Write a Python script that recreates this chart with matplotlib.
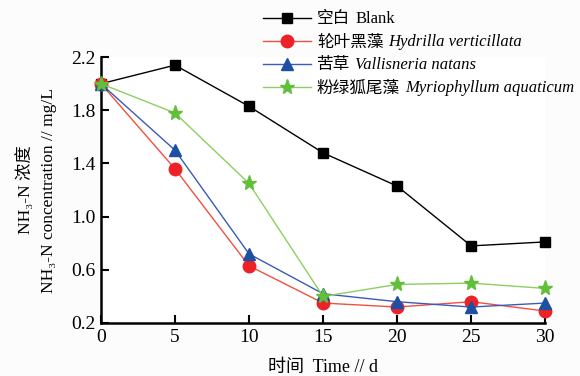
import matplotlib
matplotlib.use('Agg')
import matplotlib.pyplot as plt

# NH3-N concentration over time for blank and three submerged plants
days = [0, 5, 10, 15, 20, 25, 30]
blank = [2.00, 2.14, 1.83, 1.48, 1.23, 0.78, 0.81]
hydrilla = [2.00, 1.36, 0.63, 0.35, 0.32, 0.36, 0.29]
vallisneria = [2.00, 1.50, 0.72, 0.42, 0.36, 0.32, 0.35]
myriophyllum = [2.00, 1.78, 1.25, 0.40, 0.49, 0.50, 0.46]

names_cn = ['空白', '轮叶黑藻', '苦草', '粉绿狐尾藻']
names_lat = ['Blank', 'Hydrilla verticillata', 'Vallisneria natans', 'Myriophyllum aquaticum']

fam = ['Liberation Serif', 'Noto Sans CJK SC', 'DejaVu Serif']
plt.rcParams['font.family'] = fam

fig = plt.figure(figsize=(5.8, 3.76), dpi=100)
ax = fig.add_axes([0.174, 0.141, 0.766, 0.707])

series = [
    (blank, 'black', 'black', 's', 7.5),
    (hydrilla, '#f2503f', '#ec2227', 'o', 9),
    (vallisneria, '#3a5bb8', '#1d4fa3', '^', 9),
    (myriophyllum, '#8ccf62', '#62bf3a', '*', 11),
]
for (vals, lc, mc, mk, ms), cn in zip(series, names_cn):
    ax.plot(days, vals, color=lc, lw=1.0, marker=mk, markersize=ms,
            markerfacecolor=mc, markeredgecolor=mc, label=cn, clip_on=False, zorder=3)

ax.set_xlim(0, 30)
ax.set_ylim(0.2, 2.2)
ax.set_xticks(days)
ax.set_yticks([0.2, 0.6, 1.0, 1.4, 1.8, 2.2])
ax.set_yticklabels(['0.2', '0.6', '1.0', '1.4', '1.8', '2.2'])
ax.tick_params(direction='in', length=6, width=1.5, labelsize=14, pad=4)
for s in ['top', 'right']:
    ax.spines[s].set_visible(False)
for s in ['left', 'bottom']:
    ax.spines[s].set_linewidth(1.8)

ax.set_xlabel('时间  Time // d', fontsize=13, labelpad=10)
ax.set_ylabel('NH\u2083-N 浓度\nNH\u2083-N concentration // mg/L', fontsize=12.5, labelpad=10,
              linespacing=1.55)

# legend: chinese names as labels, latin names written after each one
leg = fig.legend(loc='upper left', bbox_to_anchor=(0.43, 1.005), frameon=False,
                 fontsize=12, handlelength=2.9, handletextpad=0.35, labelspacing=0.42,
                 borderpad=0.3)
fig.canvas.draw()
W, H = fig.canvas.get_width_height()
for t, lat in zip(leg.get_texts(), names_lat):
    bb = t.get_window_extent()
    fig.text((bb.x1 + 5) / W, bb.y0 / H, lat, va='bottom', ha='left', fontsize=12,
             fontstyle='normal' if lat == 'Blank' else 'italic')

fig.savefig('out.png', dpi=100, facecolor='#fcfcfc')
